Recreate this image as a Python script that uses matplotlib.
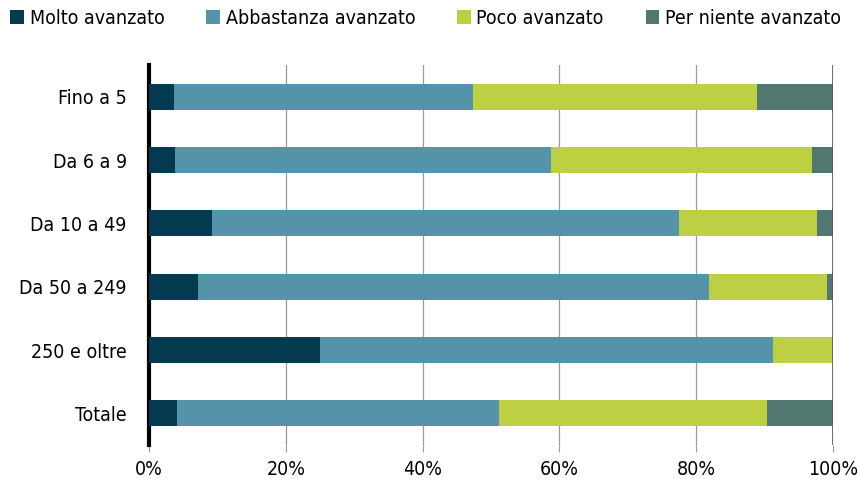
import matplotlib
matplotlib.use("Agg")
import matplotlib.pyplot as plt
import numpy as np

plt.rcParams['font.family'] = ['DejaVu Sans']
plt.rcParams['font.stretch'] = 'condensed'

categories = ['Fino a 5', 'Da 6 a 9', 'Da 10 a 49', 'Da 50 a 249', '250 e oltre', 'Totale']
series_names = ['Molto avanzato', 'Abbastanza avanzato', 'Poco avanzato', 'Per niente avanzato']
molto = [3.7, 3.8, 9.2, 7.2, 25.0, 4.1]
abbastanza = [43.7, 55.0, 68.3, 74.7, 66.2, 47.1]
poco = [41.5, 38.1, 20.2, 17.2, 8.8, 39.2]
per_niente = [11.1, 3.1, 2.3, 0.9, 0.0, 9.6]
colors = ['#033a4f', '#5593ab', '#bdcf42', '#527771']
xticks = [0, 20, 40, 60, 80, 100]

fig = plt.figure(figsize=(8.58, 4.83), dpi=100)
ax = fig.add_axes([149/858, 1-445/483, (833-149)/858, (445-65)/483])

y = np.arange(len(categories))
left = np.zeros(len(categories))
for name, vals, c in zip(series_names, [molto, abbastanza, poco, per_niente], colors):
    ax.barh(y, vals, left=left, height=0.41, color=c, label=name, zorder=3)
    left += np.array(vals)

ax.set_xlim(0, 100)
ax.set_ylim(5.5, -0.5)
ax.set_yticks(y)
ax.set_yticklabels(categories, fontsize=14)
ax.set_xticks(xticks)
ax.set_xticklabels([f'{t}%' for t in xticks], fontsize=14)
ax.tick_params(axis='y', length=0, pad=16)
ax.tick_params(axis='x', length=5, color='#999999', pad=6)
ax.grid(axis='x', color='#999999', linewidth=0.9, zorder=0)
for s in ['top', 'right', 'bottom']:
    ax.spines[s].set_visible(False)
ax.spines['left'].set_linewidth(3)
ax.spines['left'].set_color('black')
ax.axvline(100, color='#555555', linewidth=1.2, zorder=4)

fig.legend(loc='upper left', bbox_to_anchor=(-0.004, 1.01), ncol=4, frameon=False,
           fontsize=14, handlelength=0.7, handleheight=0.7, handletextpad=0.3,
           columnspacing=2.15, borderaxespad=0.3)

plt.savefig('out.png', dpi=100)
